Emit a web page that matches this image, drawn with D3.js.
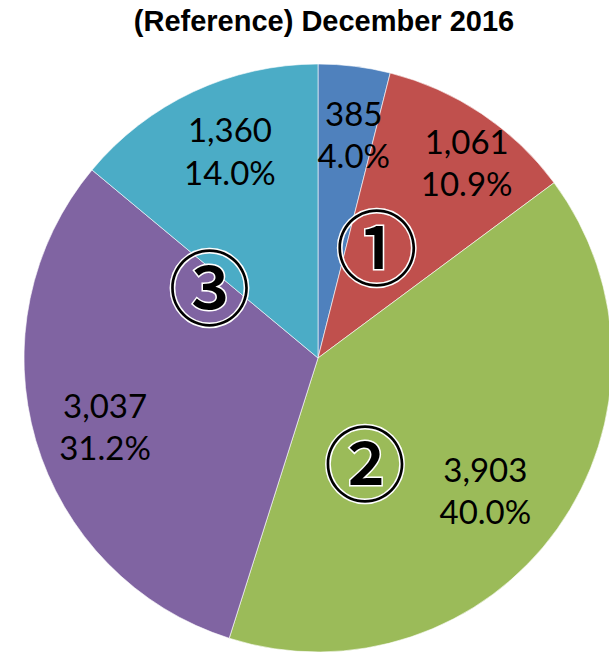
<!DOCTYPE html>
<html>
<head>
<meta charset="utf-8">
<script src="https://cdn.jsdelivr.net/npm/d3@7"></script>
<style>
  body { margin: 0; background: #fff; }
  svg { display: block; }
</style>
</head>
<body>
<svg id="chart" width="609" height="665"></svg>
<script>
// data
const titleText = "(Reference) December 2016";
const sliceValues = [385, 1061, 3903, 3037, 1360];
const sliceColors = ["#4f81bd", "#c0504d", "#9bbb59", "#8064a2", "#4bacc6"];
const markerTexts = ["①", "②", "③"];

// layout tweaks (label nudges in px, marker polar spots in degrees / px)
const labelNudge = [[8, 0], [24, -8], [-15, 4], [2, 7], [7, -3]];
const markerAngle = [28.6, 156.5, 302.0];
const markerRadius = [123, 118, 128];

const W = 609, H = 665;
const cx = 318, cy = 358, R = 294, labelR = 224;

const svg = d3.select("#chart");

svg.append("text")
    .attr("x", 324).attr("y", 31)
    .attr("text-anchor", "middle")
    .style("font-family", "'Liberation Sans', Arial, sans-serif")
    .style("font-weight", "bold")
    .style("font-size", "29px")
    .text(titleText);

const g = svg.append("g").attr("transform", `translate(${cx},${cy})`);

const pie = d3.pie().sort(null).value(d => d);
const arcs = pie(sliceValues);
const total = d3.sum(sliceValues);

const arc = d3.arc().innerRadius(0).outerRadius(R);
const labelArc = d3.arc().innerRadius(labelR).outerRadius(labelR);

g.selectAll("path.slice")
    .data(arcs)
    .join("path")
    .attr("class", "slice")
    .attr("d", arc)
    .attr("fill", (d, i) => sliceColors[i])
    .attr("stroke", "#fff")
    .attr("stroke-width", 0.6);

const fmtNum = d3.format(",");
const fmtPct = d3.format(".1%");

const labels = g.selectAll("g.lbl")
    .data(arcs)
    .join("g")
    .attr("class", "lbl")
    .attr("transform", (d, i) => {
        const [x, y] = labelArc.centroid(d);
        return `translate(${x + labelNudge[i][0]},${y + labelNudge[i][1]})`;
    })
    .style("font-family", "Lato, 'Open Sans', sans-serif")
    .style("font-size", "33px")
    .attr("fill", "#000")
    .attr("text-anchor", "middle");

labels.append("text")
    .attr("dy", "-0.3em")
    .text(d => fmtNum(d.data));
labels.append("text")
    .attr("dy", "0.98em")
    .text(d => fmtPct(d.data / total));

// circled callouts, black glyph with a thin white halo
const toRad = Math.PI / 180;
g.selectAll("text.marker")
    .data(markerTexts)
    .join("text")
    .attr("class", "marker")
    .attr("x", (d, i) => markerRadius[i] * Math.sin(markerAngle[i] * toRad))
    .attr("y", (d, i) => -markerRadius[i] * Math.cos(markerAngle[i] * toRad))
    .attr("dy", "0.35em")
    .attr("text-anchor", "middle")
    .style("font-family", "'Noto Sans CJK JP', sans-serif")
    .style("font-weight", 500)
    .style("font-size", "82px")
    .attr("fill", "#000")
    .attr("stroke", "#fff")
    .attr("stroke-width", 3)
    .style("paint-order", "stroke")
    .text(d => d);
</script>
</body>
</html>
